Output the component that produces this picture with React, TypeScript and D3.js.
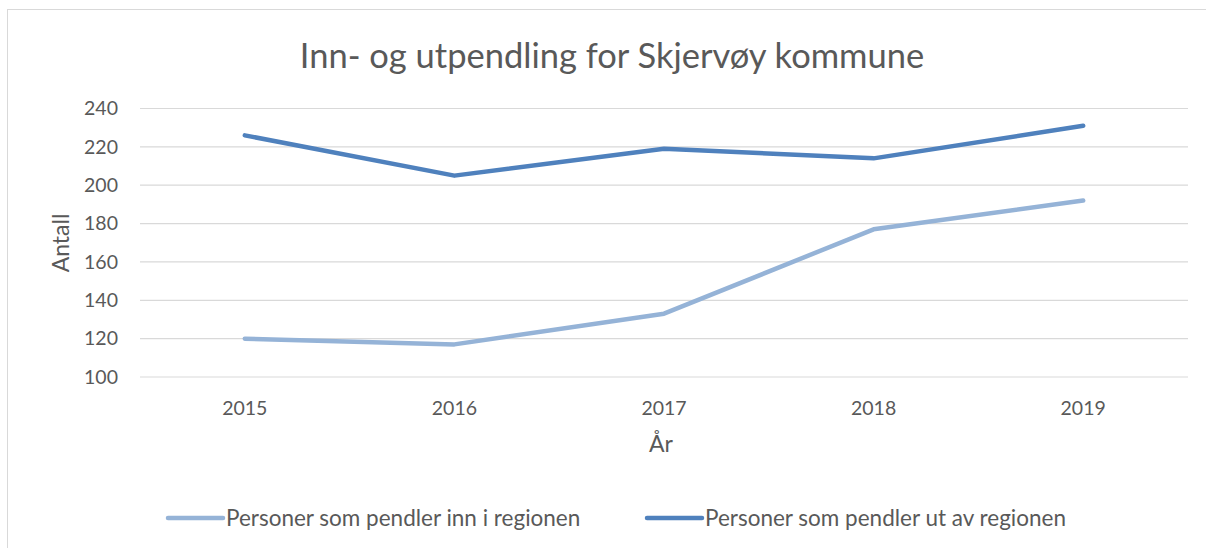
import React from "react";
import * as d3 from "d3";

const years = ["2015", "2016", "2017", "2018", "2019"];
const innValues = [120, 117, 133, 177, 192];
const utValues = [226, 205, 219, 214, 231];
const yTicks = [100, 120, 140, 160, 180, 200, 220, 240];
const seriesNames = ["Personer som pendler inn i regionen", "Personer som pendler ut av regionen"];
const colors = ["#95B3D7", "#4F81BD"];

const W = 1206, H = 548;
const FONT = "Lato, 'Open Sans', sans-serif";
const TXT = "#595959";

export default function App() {
  const x = d3.scaleBand().domain(years).range([140, 1188]);
  const y = d3.scaleLinear().domain([100, 240]).range([377, 108.5]);
  const line = d3.line<number>()
    .x((_, i) => (x(years[i]) as number) + x.bandwidth() / 2)
    .y((d) => y(d));
  const series = [innValues, utValues];
  return (
    <svg width={W} height={H} style={{ position: "absolute", left: 0, top: 0 }}>
      <rect x={0} y={0} width={W} height={H} fill="#fff" />
      <rect x={7.5} y={9.5} width={1205} height={560} fill="#fff" stroke="#d9d9d9" strokeWidth={1} />
      <text x={612} y={68} textAnchor="middle" fontFamily={FONT} fontSize={34.5} fill={TXT}>
        Inn- og utpendling for Skjervøy kommune
      </text>
      {yTicks.map((t) => (
        <g key={t}>
          <line x1={140} x2={1188} y1={y(t)} y2={y(t)} stroke="#d9d9d9" strokeWidth={1.2} />
          <text x={118} y={y(t)} dy="0.35em" textAnchor="end" fontFamily={FONT} fontSize={19.5} fill={TXT}>{t}</text>
        </g>
      ))}
      {years.map((yr) => (
        <text key={yr} x={(x(yr) as number) + x.bandwidth() / 2} y={408} dy="0.35em" textAnchor="middle" fontFamily={FONT} fontSize={19.5} fill={TXT}>{yr}</text>
      ))}
      <text transform="translate(61,243) rotate(-90)" textAnchor="middle" dy="0.35em" fontFamily={FONT} fontSize={23} fill={TXT}>Antall</text>
      <text x={661} y={444} textAnchor="middle" dy="0.35em" fontFamily={FONT} fontSize={23} fill={TXT}>År</text>
      {series.map((s, i) => (
        <path key={i} d={line(s) as string} fill="none" stroke={colors[i]} strokeWidth={4.5} strokeLinecap="round" strokeLinejoin="round" />
      ))}
      {seriesNames.map((n, i) => {
        const lx = i === 0 ? 168 : 647;
        return (
          <g key={n}>
            <line x1={lx} x2={lx + 55} y1={518} y2={518} stroke={colors[i]} strokeWidth={4.5} strokeLinecap="round" />
            <text x={lx + 58} y={518} dy="0.35em" fontFamily={FONT} fontSize={22.5} fill={TXT}>{n}</text>
          </g>
        );
      })}
    </svg>
  );
}
